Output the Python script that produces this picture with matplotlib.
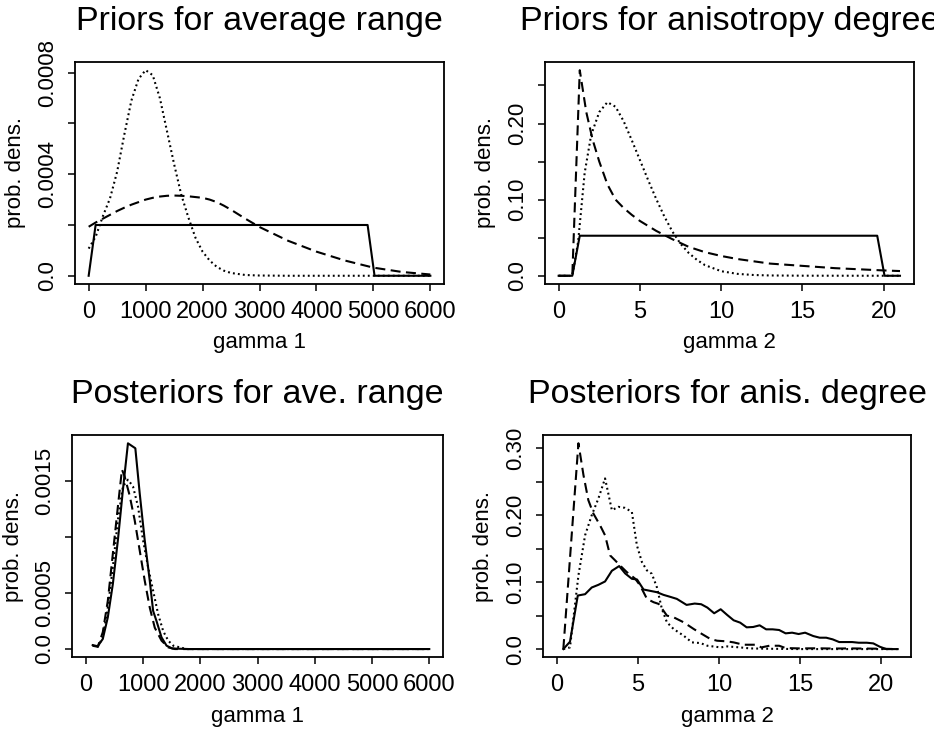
import numpy as np
import matplotlib
matplotlib.use('Agg')
import matplotlib.pyplot as plt

plt.rcParams['font.family'] = ['Liberation Sans', 'DejaVu Sans']

# Priors for average range (gamma 1)
p1_solid_x = [0, 122, 4898, 5020, 6000]
p1_solid_y = [0, 0.0002, 0.0002, 0, 0]
p1_dash_x = [0, 125, 250, 375, 500, 625, 750, 875, 1000, 1125, 1250, 1375, 1500, 1625, 1750, 1875,
             2000, 2125, 2250, 2375, 2500, 2750, 3000, 3500, 4000, 4500, 5000, 5500, 6000]
p1_dash_y = [1.93e-4, 2.1e-4, 2.25e-4, 2.4e-4, 2.55e-4, 2.68e-4, 2.8e-4, 2.9e-4, 3.0e-4, 3.07e-4,
             3.12e-4, 3.15e-4, 3.16e-4, 3.15e-4, 3.13e-4, 3.1e-4, 3.07e-4, 3.0e-4, 2.9e-4, 2.76e-4,
             2.6e-4, 2.25e-4, 1.92e-4, 1.38e-4, 0.95e-4, 0.6e-4, 0.32e-4, 0.15e-4, 0.05e-4]
p1_dot_x = [0, 125, 250, 375, 500, 625, 750, 875, 1000, 1125, 1250, 1375, 1500, 1625, 1750, 1875,
            2000, 2125, 2250, 2375, 2500, 2750, 3000, 3500, 6000]
p1_dot_y = [1.07e-4, 1.55e-4, 2.35e-4, 3.05e-4, 4.1e-4, 5.55e-4, 6.9e-4, 7.75e-4, 8.1e-4, 7.9e-4,
            7.0e-4, 5.7e-4, 4.4e-4, 3.2e-4, 2.3e-4, 1.5e-4, 0.95e-4, 0.6e-4, 0.35e-4, 0.2e-4,
            0.11e-4, 0.03e-4, 0.01e-4, 0, 0]

# Priors for anisotropy degree (gamma 2)
p2_solid_x = [0, 0.84, 1.3, 19.6, 20.05, 21]
p2_solid_y = [0, 0, 0.0526, 0.0526, 0, 0]
p2_dash_x = [0, 0.84, 1.3, 1.7, 2.1, 2.5, 3, 3.5, 4, 4.5, 5, 6, 7, 8, 9, 10, 11, 12, 13, 14,
             15, 16, 17, 18, 19, 20, 21]
p2_dash_y = [0, 0, 0.27, 0.215, 0.178, 0.15, 0.12, 0.1, 0.089, 0.08, 0.072, 0.059, 0.048, 0.038,
             0.031, 0.026, 0.022, 0.019, 0.016, 0.0145, 0.013, 0.0115, 0.01, 0.009, 0.008, 0.007, 0.0062]
p2_dot_x = [0, 0.84, 1.2, 1.6, 2.0, 2.5, 3.0, 3.5, 4.0, 4.5, 5.0, 5.5, 6.0, 6.5, 7.0, 7.5, 8.0,
            8.5, 9.0, 10, 11, 12, 13, 15, 21]
p2_dot_y = [0, 0, 0.045, 0.135, 0.185, 0.215, 0.228, 0.222, 0.203, 0.178, 0.152, 0.126, 0.101,
            0.078, 0.058, 0.042, 0.03, 0.021, 0.014, 0.006, 0.0025, 0.001, 0.0004, 0.0001, 0]

# Posteriors for ave. range (gamma 1)
p3_solid_x = [117, 205, 293, 381, 469, 557, 645, 733, 862, 938, 1026, 1114, 1173, 1232, 1320,
              1408, 1507, 1800, 6000]
p3_solid_y = [3.5e-5, 2.5e-5, 9e-5, 2.83e-4, 5.8e-4, 9.7e-4, 1.42e-3, 1.834e-3, 1.79e-3, 1.39e-3,
              9.7e-4, 6.1e-4, 3.4e-4, 2.5e-4, 1.04e-4, 3e-5, 5e-6, 0, 0]
p3_dash_x = [117, 205, 293, 381, 469, 557, 628, 674, 762, 850, 938, 1026, 1114, 1202, 1320, 1437,
             1554, 6000]
p3_dash_y = [3e-5, 2e-5, 1.5e-4, 4.3e-4, 8.5e-4, 1.27e-3, 1.6e-3, 1.54e-3, 1.37e-3, 1.15e-3,
             8.8e-4, 6.1e-4, 3.7e-4, 1.9e-4, 7.5e-5, 1.5e-5, 0, 0]
p3_dot_x = [117, 205, 293, 381, 469, 557, 645, 733, 821, 909, 997, 1085, 1173, 1261, 1349, 1437,
            1525, 1640, 1760, 6000]
p3_dot_y = [3e-5, 2e-5, 1.04e-4, 3.7e-4, 7.3e-4, 1.15e-3, 1.45e-3, 1.51e-3, 1.45e-3, 1.27e-3,
            9.7e-4, 7.3e-4, 5.2e-4, 3.1e-4, 1.6e-4, 7.5e-5, 3e-5, 1.5e-5, 0, 0]

# Posteriors for anis. degree (gamma 2)
p4_solid_x = [0.41, 0.82, 1.30, 1.75, 2.16, 2.57, 2.98, 3.40, 3.85, 4.22, 4.63, 4.95, 5.35, 5.76,
              6.17, 6.58, 7.0, 7.4, 8.0, 8.5, 8.9, 9.28, 9.70, 10.10, 10.50, 10.90, 11.30, 11.70,
              12.10, 12.50, 12.90, 13.30, 13.70, 14.10, 14.50, 14.90, 15.30, 15.80, 16.20, 16.60,
              17.00, 17.40, 17.80, 18.20, 18.60, 19.10, 19.50, 19.90, 20.30, 21.0]
p4_solid_y = [0.0, 0.011, 0.080, 0.082, 0.092, 0.096, 0.101, 0.117, 0.124, 0.113, 0.105, 0.104,
              0.089, 0.087, 0.085, 0.081, 0.078, 0.075, 0.066, 0.068, 0.067, 0.062, 0.0535, 0.0595,
              0.051, 0.043, 0.0395, 0.0325, 0.033, 0.0355, 0.0295, 0.0295, 0.0285, 0.0235, 0.0245,
              0.0225, 0.0245, 0.0195, 0.017, 0.017, 0.0145, 0.0105, 0.0105, 0.0105, 0.0095, 0.0095,
              0.0085, 0.0035, 0.0, 0.0]
p4_dash_x = [0.41, 1.34, 1.65, 1.95, 2.26, 2.67, 2.98, 3.29, 3.6, 3.9, 4.32, 4.84, 5.14, 5.56,
             5.97, 6.28, 6.79, 7.2, 7.82, 8.44, 8.95, 9.47, 9.88, 10.5, 10.9, 11.5, 12.3, 12.6,
             13.1, 13.7, 14.1, 15, 16, 17, 18, 19, 20, 21]
p4_dash_y = [0.0, 0.3075, 0.26, 0.2225, 0.2025, 0.185, 0.17, 0.14, 0.1325, 0.125, 0.115, 0.105,
             0.095, 0.075, 0.07, 0.0675, 0.05, 0.0475, 0.04, 0.03, 0.0225, 0.015, 0.0125, 0.0115,
             0.010, 0.0065, 0.0065, 0.0025, 0.005, 0.005, 0.0015, 0.001, 0.0012, 0.0008, 0.001,
             0.0008, 0.0005, 0.0]
p4_dot_x = [0.41, 0.82, 1.34, 1.75, 2.16, 2.57, 2.98, 3.4, 3.8, 4.2, 4.63, 4.94, 5.25, 5.56, 5.86,
            6.17, 6.48, 6.79, 7.2, 7.82, 8.33, 8.85, 9.28, 10.1, 10.5, 11.3, 11.9, 13, 15, 21]
p4_dot_y = [0, 0.0025, 0.11, 0.17, 0.2, 0.225, 0.255, 0.2075, 0.2125, 0.211, 0.205, 0.155, 0.13,
            0.1175, 0.1125, 0.0925, 0.06, 0.04, 0.03, 0.02, 0.01, 0.009, 0.005, 0.0025, 0.004,
            0.0025, 0.001, 0.0005, 0, 0]

titles = ['Priors for average range', 'Priors for anisotropy degree',
          'Posteriors for ave. range', 'Posteriors for anis. degree']
xlabels = ['gamma 1', 'gamma 2', 'gamma 1', 'gamma 2']
ylabel = 'prob. dens.'

LW = 1.5
DASH = (4.8, 2.6)
DOT = (0.9, 1.5)

fig = plt.figure(figsize=(9.34, 7.31), dpi=100)
rects = [[0.0803, 0.6115, 0.3951, 0.3037],
         [0.5835, 0.6115, 0.3947, 0.3037],
         [0.0774, 0.1008, 0.3969, 0.3041],
         [0.5814, 0.1008, 0.3943, 0.3041]]
axs = [fig.add_axes(r) for r in rects]

series = [
    (p1_solid_x, p1_solid_y, p1_dash_x, p1_dash_y, p1_dot_x, p1_dot_y),
    (p2_solid_x, p2_solid_y, p2_dash_x, p2_dash_y, p2_dot_x, p2_dot_y),
    (p3_solid_x, p3_solid_y, p3_dash_x, p3_dash_y, p3_dot_x, p3_dot_y),
    (p4_solid_x, p4_solid_y, p4_dash_x, p4_dash_y, p4_dot_x, p4_dot_y),
]

for ax, s in zip(axs, series):
    sx, sy, dx, dy, ox, oy = s
    ax.plot(sx, sy, color='black', lw=LW)
    ax.plot(dx, dy, color='black', lw=LW, dashes=DASH)
    ax.plot(ox, oy, color='black', lw=LW, dashes=DOT)

# axis ranges (R style, 4% padding)
axs[0].set_xlim(-240, 6240)
axs[0].set_ylim(-0.0000324, 0.000842)
axs[1].set_xlim(-0.84, 21.84)
axs[1].set_ylim(-0.0108, 0.2808)
axs[2].set_xlim(-240, 6240)
axs[2].set_ylim(-0.0000737, 0.001908)
axs[3].set_xlim(-0.84, 21.84)
axs[3].set_ylim(-0.0123, 0.3198)

x_ticks_g1 = [0, 1000, 2000, 3000, 4000, 5000, 6000]
x_ticks_g2 = [0, 5, 10, 15, 20]
y_ticks = [
    ([0, 0.0002, 0.0004, 0.0006, 0.0008], ['0.0', '', '0.0004', '', '0.0008']),
    ([0, 0.05, 0.10, 0.15, 0.20, 0.25], ['0.0', '', '0.10', '', '0.20', '']),
    ([0, 0.0005, 0.0010, 0.0015], ['0.0', '0.0005', '', '0.0015']),
    ([0, 0.05, 0.10, 0.15, 0.20, 0.25, 0.30], ['0.0', '', '0.10', '', '0.20', '', '0.30']),
]

for i, ax in enumerate(axs):
    xt = x_ticks_g1 if i in (0, 2) else x_ticks_g2
    ax.set_xticks(xt)
    ax.set_xticklabels([str(t) for t in xt])
    yt, yl = y_ticks[i]
    ax.set_yticks(yt)
    ax.set_yticklabels(yl)
    ax.tick_params(direction='out', length=5, width=1.1, pad=7)
    ax.tick_params(axis='x', labelsize=17)
    ax.tick_params(axis='y', labelsize=16, labelrotation=90)
    for lab in ax.get_yticklabels():
        lab.set_va('center')
    for sp in ax.spines.values():
        sp.set_linewidth(1.3)
    ax.set_title(titles[i], fontsize=24.5, pad=23)
    ax.set_xlabel(xlabels[i], fontsize=16, labelpad=7)
    ax.set_ylabel(ylabel, fontsize=16, labelpad=8)

fig.savefig('out.png', dpi=100)
